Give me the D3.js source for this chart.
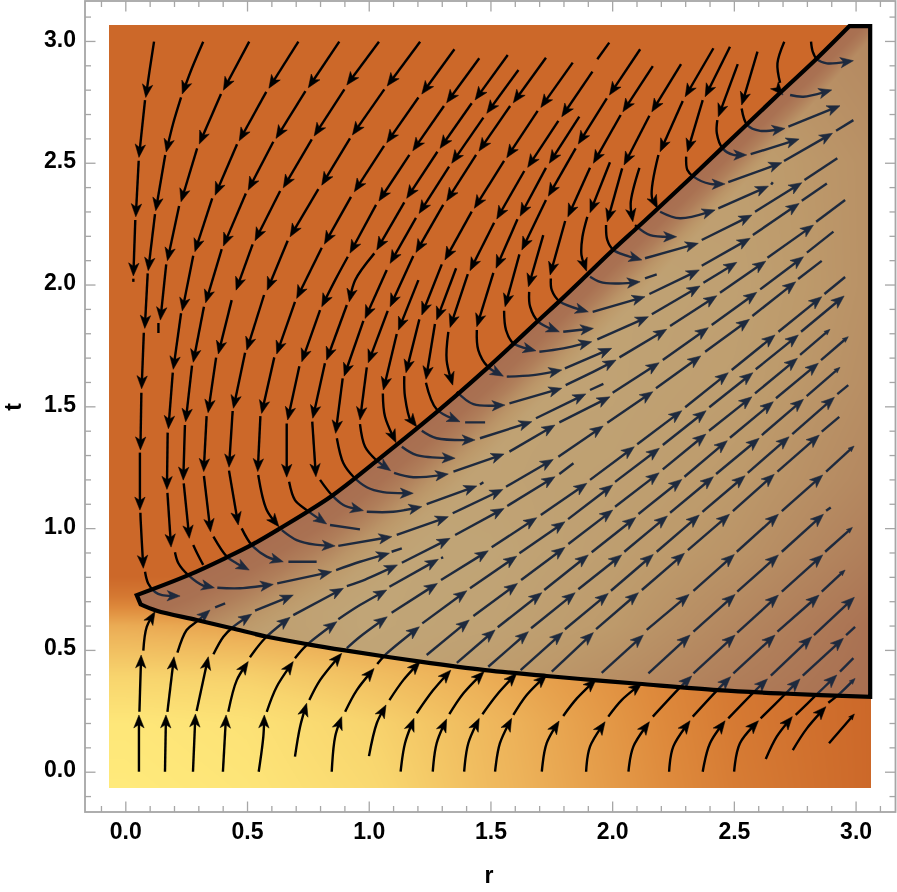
<!DOCTYPE html>
<html>
<head>
<meta charset="utf-8">
<script src="https://cdn.jsdelivr.net/npm/d3@7"></script>
<style>
html,body{margin:0;padding:0;background:#fff;}
#wrap{position:relative;width:897px;height:892px;overflow:hidden;}
canvas,svg{position:absolute;left:0;top:0;}
</style>
</head>
<body>
<div id="wrap"></div>
<script>
// ---------- axes ----------
const majorTicks = [0,0.5,1,1.5,2,2.5,3];
const minorTicks = [-0.1,0.1,0.2,0.3,0.4,0.6,0.7,0.8,0.9,1.1,1.2,1.3,1.4,1.6,1.7,1.8,1.9,2.1,2.2,2.3,2.4,2.6,2.7,2.8,2.9,3.1];
const xTitle = "r", yTitle = "t";

// ---------- region boundary ----------
const upperCurve = [[.047,.725],[.259,.807],[.417,.880],[.519,.931],[.636,.999],[.848,1.132],[1.030,1.274],[1.197,1.408],[1.355,1.541],[1.491,1.661],[1.594,1.756],[1.697,1.852],[1.786,1.934],[1.896,2.039],[2.005,2.144],[2.101,2.232],[2.190,2.314],[2.334,2.449],[2.454,2.563],[2.555,2.659],[2.690,2.787],[2.841,2.928],[2.975,3.061]];
const rightEdge = [[3.060,3.061],[3.060,.307]];
const lowerCurve = [[3.060,.307],[2.702,.321],[2.435,.335],[2.108,.361],[1.923,.376],[1.731,.393],[1.478,.417],[1.211,.452],[.903,.498],[.745,.524],[.583,.554],[.437,.589],[.293,.623],[.129,.661],[.063,.687]];

// ---------- background density ----------
const fieldExtent = [-0.065,3.065];
const outerR = [0,.5,1,1.5,2,2.5,3.07];
const outerT = [-.07,.2,.4,.6,.72,.8,3.07];
const outerValues = [
 [0,.06,.2,.45,.65,.85,1],
 [.04,.1,.26,.47,.67,.87,1],
 [.27,.3,.42,.55,.7,.88,1],
 [.55,.6,.65,.7,.8,.9,1],
 [.88,.85,.85,.9,.95,1,1],
 [1,1,1,1,1,1,1],
 [1,1,1,1,1,1,1]];
const outerColors = ["#FFEA7B","#F8D56E","#EDB35A","#DE8A3C","#CC6829"];
const midR = [0,.5,1,1.5,2,2.5,3.07];
const midT = [.3,.6,.9,1.2,1.6,2,2.5,3.07];
const midValues = [
 [.5,.3,.1,.3,.55,.8,1],
 [.5,.2,.02,.1,.3,.6,.95],
 [.5,.2,.02,.05,.2,.4,.75],
 [.5,.3,.05,.1,.15,.3,.6],
 [.5,.3,.1,.1,.1,.2,.5],
 [.5,.3,.1,.1,.1,.15,.45],
 [.5,.3,.1,.1,.2,.2,.45],
 [.5,.3,.1,.1,.2,.4,.6]];
const bandDepth = [0,.1,.18,.28,.4,.6];
const bandWeight = [1,.95,.75,.4,.12,0];
const bandScaleR = [0,1,1.5,2,2.5,3.07];
const bandScale = [1,1,.9,.75,.65,.6];
const midColors = ["#C1A678","#BD9A6B","#A86E50"];

// ---------- streamlines: each run is r,t,r,t,... ----------
const arrowRuns = [
 // A
 [.118,2.997,.100,2.880,.084,2.768],[.081,2.757,.056,2.522],[.055,2.508,.043,2.278],[.041,2.265,.033,2.035],
 // B
 [.320,2.997,.274,2.889,.234,2.782],[.229,2.768,.196,2.659,.168,2.544],[.164,2.532,.125,2.303],[.122,2.289,.094,2.057],[.092,2.046,.080,1.820],[.076,1.802,.067,1.572],[.066,1.556,.062,1.321],[.060,1.310,.060,1.074],[.062,1.063,.063,1.033,.074,.835],[.081,.821,.094,.773,.122,.738,.151,.725,.225,.721],
 // C
 [.509,2.997,.403,2.798],[.393,2.782,.304,2.577],[.295,2.559,.229,2.340],[.221,2.322,.173,2.098],[.168,2.083,.144,1.854],
 // D
 [.711,2.997,.590,2.806],[.579,2.791,.468,2.590],[.459,2.576,.369,2.367],[.357,2.354,.286,2.135],[.279,2.118,.259,2.018,.234,1.892],[.229,1.882,.197,1.652],[.195,1.638,.177,1.408],[.174,1.392,.171,1.159],[.173,1.145,.188,.922],[.204,.901,.218,.856,.259,.807,.320,.764,.366,.755],[.378,.755,.471,.753,.608,.769],[.624,.773,.848,.821],[.866,.828,.964,.862,1.085,.897],
 // E
 [.879,2.997,.752,2.808],[.740,2.794,.619,2.600],[.608,2.586,.505,2.388],[.495,2.374,.403,2.158],[.396,2.145,.330,1.925],[.323,1.909,.279,1.681],[.274,1.667,.248,1.437],[.245,1.423,.238,1.197],[.240,1.184,.263,.958],
 // F
 [1.042,2.997,.910,2.819],[.900,2.801,.776,2.610],[.766,2.596,.649,2.397],[.636,2.384,.533,2.180],[.523,2.165,.455,1.977],[.437,1.936,.382,1.715],[.373,1.700,.340,1.474],[.334,1.460,.322,1.232],[.323,1.214,.350,.985],[.362,.965,.417,.883,.458,.855,.509,.828],
 // G
 [1.211,2.997,1.076,2.815],[1.064,2.801,.933,2.614],[.923,2.600,.807,2.408],[.793,2.392,.677,2.196],[.667,2.180,.583,1.977],[.570,1.957,.499,1.731],[.492,1.720,.444,1.492],[.441,1.481,.426,1.250],[.426,1.236,.464,1.013],[.478,.999,.519,.931,.581,.883,.649,.862],
 // H
 [1.352,2.966,1.218,2.782],[1.204,2.768,1.074,2.582],[1.063,2.569,.941,2.381],[.927,2.360,.818,2.166],[.807,2.151,.704,1.943],[.697,1.929,.622,1.715],[.612,1.701,.560,1.471],[.555,1.460,.544,1.232],[.546,1.218,.581,1.074,.631,1.006],[.643,.992,.704,.951,.780,.932,.862,.927],[.875,.927,1.095,.965],[1.115,.972,1.327,1.047],[1.345,1.061,1.551,1.159],[1.564,1.170,1.758,1.282],[1.779,1.293,1.963,1.419],[1.980,1.433,2.167,1.560],[2.180,1.574,2.364,1.707],[2.382,1.724,2.564,1.857],[2.576,1.871,2.754,2.011],
 // I
 [1.454,2.929,1.320,2.746],[1.309,2.733,1.181,2.549],[1.167,2.532,1.042,2.343],[1.030,2.327,.923,2.129],[.914,2.114,.862,2.018,.807,1.909],[.800,1.895,.725,1.683],[.715,1.665,.667,1.444],[.663,1.430,.663,1.209],[.673,1.190,.697,1.115,.745,1.074,.827,1.017],
 // J
 [1.571,2.942,1.437,2.758],[1.423,2.744,1.293,2.559],[1.282,2.545,1.156,2.354],[1.146,2.337,1.033,2.142],[1.023,2.128,.944,2.018,.920,1.929],[.910,1.916,.827,1.690],[.820,1.677,.770,1.451],[.768,1.437,.783,1.211],[.800,1.198,.848,1.136,.896,1.095,.978,1.072],[.992,1.067,1.101,1.067,1.218,1.088],[1.238,1.099,1.444,1.173],
 // K
 [1.615,2.881,1.485,2.703],[1.471,2.685,1.341,2.498],[1.330,2.484,1.207,2.292],[1.194,2.274,1.088,2.087],[1.074,2.060,.985,1.861],[.978,1.851,.899,1.624],[.893,1.615,.864,1.389],[.869,1.369,.896,1.266,.937,1.211,.992,1.168,1.059,1.148,1.183,1.143],
 // L
 [1.728,2.931,1.594,2.746],[1.581,2.733,1.453,2.548],[1.441,2.532,1.320,2.343],[1.306,2.327,1.194,2.132],[1.183,2.117,1.088,1.909],[1.078,1.892,.998,1.679],[.992,1.660,.964,1.444],[.964,1.427,.985,1.334,1.030,1.280,1.090,1.236],[1.104,1.227,1.183,1.209,1.327,1.222],[1.348,1.232,1.556,1.304],[1.578,1.314,1.765,1.423],[1.783,1.434,1.991,1.539],[2.002,1.556,2.193,1.679],[2.208,1.690,2.395,1.823],[2.409,1.834,2.594,1.968],[2.608,1.980,2.786,2.114],
 // M
 [1.838,2.911,1.707,2.727],[1.694,2.713,1.567,2.521],[1.556,2.508,1.434,2.313],[1.423,2.299,1.313,2.101],[1.300,2.083,1.218,1.875],[1.208,1.857,1.153,1.638],[1.146,1.624,1.149,1.539,1.177,1.430,1.197,1.416],[1.218,1.400,1.279,1.369,1.437,1.362],[1.457,1.369,1.670,1.437],[1.687,1.451,1.892,1.551],
 // N
 [1.919,2.874,1.793,2.689],[1.779,2.672,1.653,2.481],[1.639,2.466,1.526,2.269],[1.515,2.254,1.416,2.057],[1.407,2.043,1.334,1.824],[1.327,1.806,1.320,1.690,1.345,1.587],[1.362,1.560,1.430,1.509,1.560,1.505],[1.578,1.512,1.793,1.574],[1.809,1.587,1.909,1.635,2.016,1.690],[2.030,1.701,2.224,1.816],[2.238,1.830,2.430,1.954],[2.443,1.966,2.631,2.096],[2.638,2.110,2.827,2.244],
 // O
 [1.865,2.689,1.742,2.498],[1.728,2.479,1.622,2.281],[1.611,2.268,1.523,2.067],[1.512,2.048,1.444,1.827],[1.444,1.813,1.450,1.731,1.489,1.663,1.553,1.624],[1.567,1.622,1.676,1.628,1.793,1.649],[1.806,1.656,1.998,1.738],
 // P
 [2.115,2.966,1.989,2.778],[1.978,2.764,1.861,2.577],[1.850,2.559,1.738,2.363],[1.728,2.347,1.629,2.142],[1.619,2.124,1.560,1.909],[1.556,1.892,1.564,1.813,1.594,1.759,1.687,1.728],[1.701,1.724,1.799,1.738,1.916,1.765],[1.939,1.775,2.149,1.868],[2.163,1.878,2.361,1.994],[2.375,2.007,2.512,2.091],
 // Q
 [2.167,2.897,2.044,2.709],[2.035,2.696,1.923,2.498],[1.909,2.479,1.818,2.278],[1.807,2.261,1.745,2.039],[1.748,2.025,1.752,1.977,1.786,1.929,1.902,1.888],[1.920,1.888,2.135,1.950],[2.153,1.961,2.358,2.060],[2.368,2.077,2.567,2.190],[2.578,2.203,2.768,2.333],
 // short starts
 [1.717,2.203,1.656,1.991],[1.659,1.970,1.663,1.909,1.697,1.847,1.783,1.806],[1.799,1.806,1.923,1.820],
 [1.204,2.018,1.122,1.813],[1.115,1.797,1.060,1.567],[1.058,1.553,1.067,1.457,1.112,1.351],[1.136,1.334,1.197,1.300,1.355,1.287],
 [1.359,2.067,1.279,1.855],[1.272,1.838,1.235,1.611],[1.235,1.597,1.279,1.488,1.375,1.437],
 // R
 [1.991,2.502,1.909,2.295],[1.898,2.278,1.878,2.196,1.874,2.121,1.895,2.055],[1.909,2.032,1.950,2.011,2.012,2.004,2.115,2.011],
 // S
 [2.112,2.479,2.076,2.333,2.085,2.258],[2.094,2.244,2.156,2.203,2.265,2.196],
 // T
 [2.283,2.905,2.163,2.709],[2.153,2.693,2.049,2.491],[2.041,2.477,1.980,2.258],[1.975,2.244,1.980,2.183,2.005,2.142,2.122,2.101],[2.135,2.108,2.354,2.169],[2.368,2.183,2.574,2.285],[2.587,2.299,2.779,2.418],
 // U
 [2.416,2.970,2.300,2.771],[2.290,2.753,2.197,2.545],[2.190,2.532,2.163,2.360,2.186,2.313],[2.197,2.299,2.279,2.272,2.423,2.306],[2.436,2.313,2.642,2.404],
 // V
 [2.484,2.976,2.382,2.771],[2.372,2.757,2.309,2.545],[2.304,2.525,2.309,2.470,2.334,2.443,2.402,2.413,2.464,2.413],[2.477,2.420,2.697,2.500],[2.706,2.507,2.905,2.621],
 // W
 [2.516,2.905,2.436,2.689],[2.432,2.675,2.430,2.621,2.454,2.559,2.498,2.532,2.553,2.532],[2.569,2.535,2.768,2.597],
 // X
 [2.597,2.956,2.532,2.737],[2.532,2.723,2.555,2.655,2.608,2.631,2.710,2.641],[2.724,2.648,2.936,2.734],
 // Y, Z
 [2.676,2.807,2.702,2.778],[2.731,2.778,2.786,2.771,2.902,2.799],
 [2.817,2.997,2.824,2.956,2.841,2.925,2.882,2.908,2.991,2.919],
 // lower-left family
 [.056,0,.056,.233],[.058,.246,.065,.479],[.074,.497,.088,.595,.122,.657],
 [.163,0,.167,.233],[.173,.246,.200,.472],[.214,.489,.252,.582,.293,.616,.348,.664],
 [.278,0,.288,.237],[.293,.249,.341,.472],[.362,.482,.403,.554,.444,.595,.519,.647],[.533,.661,.690,.725],
 [.401,0,.414,.233],[.423,.246,.458,.376,.505,.452],[.512,.470,.574,.548,.677,.634],[.690,.643,.896,.753],[.910,.762,.964,.780,1.118,.849],[1.136,.858,1.334,.958],[1.355,.972,1.556,1.081],[1.569,1.091,1.765,1.211],
 [.548,0,.567,.144,.571,.233],[.581,.246,.622,.349,.690,.452],[.697,.466,.745,.520,.869,.616],[.875,.626,.964,.684,1.074,.746],[1.085,.759,1.286,.872],
 [.697,.062,.718,.185,.745,.281],[.756,.294,.800,.376,.889,.486],[.910,.507,.964,.554,1.076,.636],[1.094,.653,1.282,.773],[1.297,.787,1.491,.907],[1.505,.921,1.690,1.043],[1.707,1.054,1.896,1.184],[1.909,1.198,2.091,1.334],[2.103,1.344,2.286,1.482],[2.300,1.496,2.477,1.638],[2.491,1.649,2.669,1.793],[2.683,1.806,2.861,1.950],
 [.848,0,.862,.144,.889,.226],[.903,.246,.951,.335,1.022,.424],[1.035,.442,1.067,.479,1.208,.595],[1.220,.609,1.403,.743],[1.416,.753,1.608,.885],[1.619,.897,1.806,1.026],[1.819,1.037,2.002,1.177],[2.012,1.190,2.194,1.328],[2.208,1.341,2.386,1.482],[2.399,1.496,2.578,1.638],[2.590,1.652,2.765,1.793],[2.776,1.806,2.953,1.953],
 [1.001,.064,1.033,.199,1.071,.274],[1.085,.294,1.142,.376,1.211,.452],[1.238,.479,1.413,.623],[1.430,.639,1.611,.773],[1.626,.787,1.806,.921],[1.820,.935,2.002,1.074],[2.012,1.088,2.193,1.227],[2.208,1.241,2.385,1.386],[2.398,1.400,2.574,1.539],[2.587,1.553,2.761,1.697],
 [1.131,0,1.149,.117,1.186,.219],[1.197,.240,1.265,.335,1.337,.417],[1.362,.447,1.519,.582],[1.530,.593,1.711,.735],[1.721,.746,1.902,.890],[1.916,.901,2.097,1.044],[2.108,1.058,2.286,1.200],[2.297,1.211,2.473,1.359],[2.484,1.371,2.662,1.519],[2.673,1.533,2.847,1.677],
 [1.263,0,1.279,.117,1.320,.216],[1.331,.236,1.389,.322,1.474,.411],[1.491,.431,1.656,.575],[1.667,.589,1.848,.735],[1.861,.749,2.039,.890],[2.050,.903,2.227,1.050],[2.238,1.063,2.416,1.211],[2.427,1.222,2.604,1.369],[2.615,1.382,2.786,1.529],
 [1.392,0,1.409,.117,1.454,.219],[1.467,.236,1.526,.315,1.608,.404],[1.624,.417,1.797,.572],[1.806,.585,1.984,.732],[1.995,.743,2.169,.892],[2.183,.903,2.358,1.054],[2.371,1.067,2.546,1.215],[2.557,1.227,2.727,1.375],[2.740,1.386,2.913,1.537],
 [1.519,0,1.539,.117,1.587,.219],[1.594,.233,1.649,.315,1.731,.397],[1.752,.411,1.923,.571],[1.934,.585,2.108,.735],[2.122,.746,2.297,.897],[2.311,.910,2.482,1.057],[2.496,1.070,2.666,1.221],[2.679,1.232,2.851,1.382],
 [1.711,0,1.731,.117,1.782,.208],[1.799,.229,1.855,.301,1.934,.379],[1.957,.406,2.128,.561],[2.142,.582,2.316,.728],[2.334,.742,2.502,.892],[2.512,.903,2.683,1.057],[2.697,1.070,2.865,1.218],
 [1.893,0,1.909,.103,1.971,.205],[1.984,.226,2.039,.294,2.122,.363],[2.149,.404,2.320,.561],[2.334,.575,2.505,.728],[2.514,.739,2.683,.890],[2.697,.903,2.868,1.057],
 [2.067,0,2.087,.103,2.153,.205],[2.167,.226,2.279,.346,2.327,.393],[2.334,.404,2.505,.561],[2.514,.571,2.683,.725],[2.697,.739,2.865,.890],
 [2.234,0,2.251,.103,2.320,.209],[2.331,.226,2.430,.333,2.487,.390],[2.498,.404,2.669,.561],[2.679,.575,2.850,.725],
 [2.372,0,2.402,.117,2.464,.209],[2.477,.219,2.583,.328,2.638,.381],[2.652,.394,2.820,.554],[2.829,.561,2.995,.716],
 [2.501,0,2.525,.117,2.601,.209],[2.610,.219,2.710,.318,2.772,.381],[2.783,.394,2.950,.548],
 [2.631,.052,2.676,.144,2.740,.226],[2.754,.233,2.834,.311,2.923,.397],
 [2.742,.089,2.800,.178,2.878,.267]
];
const taperRuns = [
 [2.772,1.711,2.895,1.816],[2.858,1.690,2.970,1.786],[2.799,1.542,2.936,1.660],[2.879,1.232,2.994,1.337],[2.875,.903,2.987,1.003],
 [2.861,.739,2.957,.828],[2.888,.283,2.936,.322,2.998,.383],[2.891,.117,2.995,.237]
];
const plainRuns = [
 [.033,2.024,.033,2.011],[.136,1.842,.136,1.801],[1.094,.903,1.136,.917],[.279,.931,.296,.895,.320,.849],[.670,.862,.786,.862],
 [2.764,2.023,2.861,2.097],[.841,1.013,.964,.995],[1.457,1.179,1.471,1.188],[2.800,2.131,2.909,2.217],[1.909,1.567,1.964,1.592],
 [2.838,2.258,2.957,2.347],[2.779,2.344,2.882,2.415],[2.135,2.025,2.183,2.042],[2.790,2.429,2.925,2.518],[2.653,2.410,2.660,2.420],
 [2.920,2.631,2.991,2.675],[2.707,2.997,2.679,2.908,2.690,2.828],[1.988,2.993,1.939,2.925],[.369,.675,.410,.691],[1.783,1.222,1.841,1.266],
 [1.297,.877,1.306,.880],[2.872,1.961,2.957,2.031],[2.925,1.550,2.970,1.587],[2.861,1.396,2.933,1.457],[2.879,1.071,2.898,1.085],
 [2.961,.561,2.998,.595],[2.936,.411,2.991,.466],[1.396,1.434,1.478,1.434]
];

// ---------- drawing ----------
const W = 897, H = 892;
const x = d3.scaleLinear().domain([-0.1656,3.164]).range([85,895.5]);
const y = d3.scaleLinear().domain([-0.1654,3.164]).range([812,1]);

function bilinear(rs,ts,grid,r,t){
  const clampI=(a,v)=>Math.max(0,Math.min(a.length-2,d3.bisectRight(a,v)-1));
  const i=clampI(rs,r), j=clampI(ts,t);
  const u=Math.max(0,Math.min(1,(r-rs[i])/(rs[i+1]-rs[i])));
  const v=Math.max(0,Math.min(1,(t-ts[j])/(ts[j+1]-ts[j])));
  return (1-v)*((1-u)*grid[j][i]+u*grid[j][i+1])+v*((1-u)*grid[j+1][i]+u*grid[j+1][i+1]);
}
const outerRamp = d3.scaleLinear().domain([0,.25,.5,.75,1]).range(outerColors).interpolate(d3.interpolateRgb);
const midRamp = d3.scaleLinear().domain([0,.3,1]).range(midColors).interpolate(d3.interpolateRgb);
const upperAt = d3.scaleLinear().domain(upperCurve.map(d=>d[0])).range(upperCurve.map(d=>d[1]));
const bandAt = d3.scaleLinear().domain(bandDepth).range(bandWeight).clamp(true);
const bandScaleAt = d3.scaleLinear().domain(bandScaleR).range(bandScale).clamp(true);

const wrap = d3.select("#wrap");
const canvas = wrap.append("canvas").attr("width",W).attr("height",H).node();
const ctx = canvas.getContext("2d");
ctx.fillStyle="#fff"; ctx.fillRect(0,0,W,H);

function paintField(target,colorAt){
  const x0=Math.round(x(fieldExtent[0])), x1=Math.round(x(fieldExtent[1]));
  const y0=Math.round(y(fieldExtent[1])), y1=Math.round(y(fieldExtent[0]));
  const c=target.getContext("2d"), img=c.createImageData(x1-x0,y1-y0);
  let k=0;
  for(let py=y0;py<y1;py++) for(let px=x0;px<x1;px++){
    const col=d3.rgb(colorAt(x.invert(px+.5),y.invert(py+.5)));
    img.data[k++]=col.r; img.data[k++]=col.g; img.data[k++]=col.b; img.data[k++]=255;
  }
  c.putImageData(img,x0,y0);
}
paintField(canvas,(r,t)=>outerRamp(bilinear(outerR,outerT,outerValues,r,t)));
const midCanvas=document.createElement("canvas"); midCanvas.width=W; midCanvas.height=H;
paintField(midCanvas,(r,t)=>{
  const bulk=bilinear(midR,midT,midValues,r,t);
  const band=bandAt((upperAt(r)-t)/bandScaleAt(r));
  return midRamp(Math.max(bulk,band));
});

const curved=d3.line().x(d=>x(d[0])).y(d=>y(d[1])).curve(d3.curveCatmullRom.alpha(.5));
const regionD=curved(upperCurve)+"L"+x(rightEdge[0][0])+","+y(rightEdge[0][1])+"L"+curved(lowerCurve).slice(1)+"Z";
ctx.save(); ctx.clip(new Path2D(regionD)); ctx.drawImage(midCanvas,0,0); ctx.restore();

const svg=wrap.append("svg").attr("width",W).attr("height",H);
const defs=svg.append("defs");
defs.append("clipPath").attr("id","inside").append("path").attr("d",regionD);
defs.append("clipPath").attr("id","outside").append("path")
  .attr("clip-rule","evenodd").attr("d",`M0,0H${W}V${H}H0Z`+regionD);

const pairs=run=>d3.range(0,run.length,2).map(i=>[run[i],run[i+1]]);

function drawRuns(g,color){
  const add=(runs,head)=>runs.forEach(run=>{
    const d=curved(pairs(run));
    const p=g.append("path").attr("d",d).attr("fill","none").attr("stroke",color)
      .attr("stroke-width",2.4).attr("stroke-linecap","butt");
    if(!head) return;
    const node=p.node(), L=node.getTotalLength();
    const tip=node.getPointAtLength(L), back=node.getPointAtLength(Math.max(0,L-head.len));
    const a=Math.atan2(tip.y-back.y,tip.x-back.x)*180/Math.PI;
    p.attr("stroke-dasharray",`${Math.max(0,L-head.len*.6)} ${L}`);
    g.append("path")
      .attr("d",`M0,0L${-head.len},${head.w}L${-head.len*.74},0L${-head.len},${-head.w}Z`)
      .attr("transform",`translate(${tip.x},${tip.y}) rotate(${a})`)
      .attr("fill",color).attr("stroke",color).attr("stroke-width",.5);
  });
  add(arrowRuns,{len:13,w:5.2});
  add(taperRuns,{len:6,w:2.4});
  add(plainRuns,null);
}
drawRuns(svg.append("g").attr("clip-path","url(#outside)"),"#000");
drawRuns(svg.append("g").attr("clip-path","url(#inside)"),"#1E2A3E");

// boundary
svg.append("path").attr("d",regionD).attr("fill","none").attr("stroke","#000")
  .attr("stroke-width",4.2).attr("stroke-linejoin","miter");

// frame and ticks
const frameColor="#A6A6A6";
const bottom=812, top_=1, left=85, right=895.5;
function makeAxis(axisFn,scale,pos,size,values,labels){
  const ax=axisFn(scale).tickValues(values).tickSizeInner(size).tickSizeOuter(0).tickPadding(labels?(-size)+9:0)
    .tickFormat(labels?d3.format(".1f"):"");
  const g=svg.append("g").attr("transform",pos).call(ax);
  g.select(".domain").remove();
  g.selectAll(".tick line").attr("stroke",frameColor).attr("stroke-width",1.3);
  g.selectAll("text").attr("fill","#000").attr("font-family","'Liberation Sans',Arial,sans-serif")
    .attr("font-weight","bold").attr("font-size",23);
  return g;
}
[[minorTicks,6,false],[majorTicks,10.5,true]].forEach(([vals,len,lab])=>{
  const gb=makeAxis(d3.axisBottom,x,`translate(0,${bottom})`,-len,vals,lab);
  const gl=makeAxis(d3.axisLeft,y,`translate(${left},0)`,-len,vals,lab);
  makeAxis(d3.axisTop,x,`translate(0,${top_})`,-len,vals,false);
  makeAxis(d3.axisRight,y,`translate(${right},0)`,-len,vals,false);
  if(lab){
    gb.selectAll("text").attr("y",null).attr("dy",null).attr("transform","translate(0,21)").attr("text-anchor","middle").attr("dominant-baseline","middle");
    gl.selectAll("text").attr("x",-9).attr("dy",-1).attr("text-anchor","end").attr("dominant-baseline","middle");
  }
});
svg.append("rect").attr("x",left).attr("y",top_).attr("width",right-left).attr("height",bottom-top_)
  .attr("fill","none").attr("stroke",frameColor).attr("stroke-width",1.8);

svg.append("text").attr("x",489).attr("y",883).attr("text-anchor","middle")
  .attr("font-family","'Liberation Sans',Arial,sans-serif").attr("font-weight","bold").attr("font-size",23).text(xTitle);
svg.append("text").attr("transform","translate(21,407) rotate(-90)").attr("text-anchor","middle")
  .attr("font-family","'Liberation Sans',Arial,sans-serif").attr("font-weight","bold").attr("font-size",23).text(yTitle);
</script>
</body>
</html>
